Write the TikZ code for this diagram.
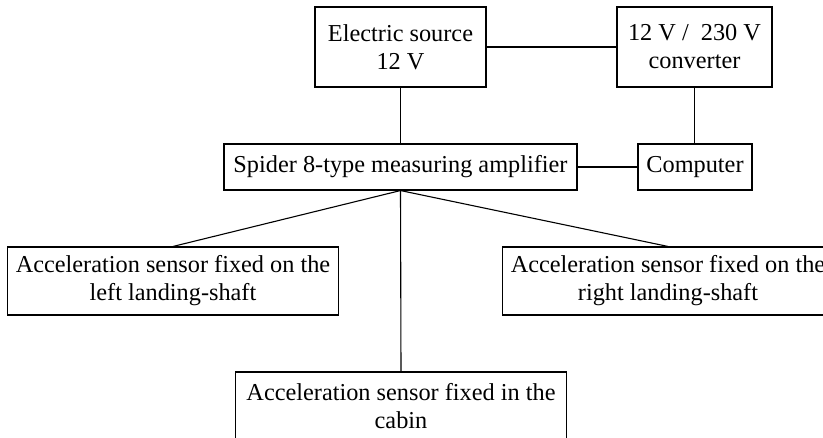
\documentclass[tikz,border=0pt]{standalone}
\usepackage{fontspec}
\setmainfont{Liberation Serif}
\begin{document}
\begin{tikzpicture}[x=1pt,y=-1pt,
  box/.style={draw, line width=1.1pt, rectangle, align=center, inner sep=0pt,
    font=\fontsize{24.3}{28}\selectfont},
  sensor/.style={box, minimum width=331pt, minimum height=68pt},
  link/.style={line width=1.1pt}]
\useasboundingbox (0,0) rectangle (823,438);
\clip (0,0) rectangle (823,438);
% power supply
\node[box, minimum width=171pt, minimum height=80pt] (src) at (400.5,47) {Electric source\\12 V};
\node[box, minimum width=155pt, minimum height=80pt] (conv) at (694.5,47) {12 V /\ \ 230 V\\converter};
% measuring chain
\node[box, minimum width=353pt, minimum height=46pt] (amp) at (400.5,167) {Spider 8-type measuring amplifier};
\node[box, minimum width=114pt, minimum height=46pt] (comp) at (695,167) {Computer};
% sensors
\node[sensor] (left) at (173,281) {Acceleration sensor fixed on the\\left landing-shaft};
\node[sensor] (right) at (668,281) {Acceleration sensor fixed on the\\right landing-shaft};
\node[sensor] (cab) at (401,406) {Acceleration sensor fixed in the\\cabin};
% connectors
\draw[link] (src.east) -- (conv.west);
\draw[link] (src.south) -- (src.south |- amp.north);
\draw[link] (conv.south) -- (conv.south |- comp.north);
\draw[link] (amp.east) -- (comp.west);
\draw[link] (amp.south) -- (left.north);
\draw[link] (amp.south) -- (right.north);
\draw[link] (amp.south) -- (cab.north);
\end{tikzpicture}
\end{document}
